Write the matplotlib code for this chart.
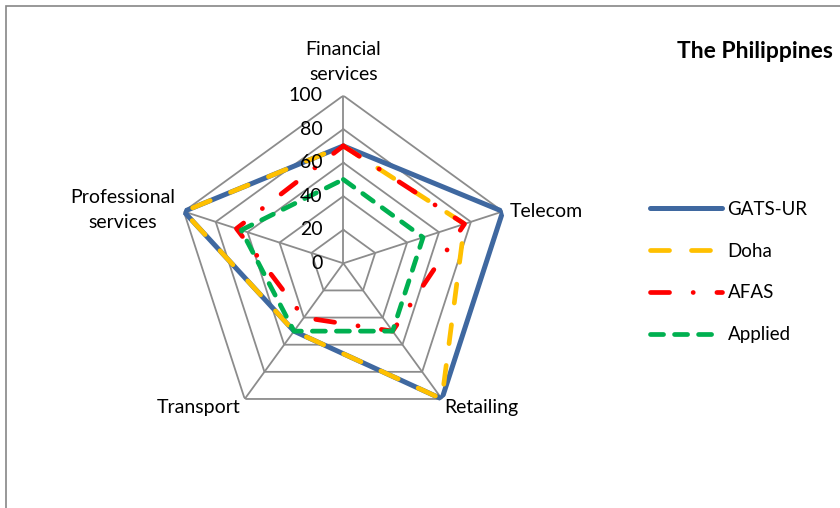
import numpy as np
import matplotlib
matplotlib.use("Agg")
import matplotlib.pyplot as plt
from matplotlib.patches import Rectangle

plt.rcParams['font.family'] = ['Lato', 'DejaVu Sans']
plt.rcParams['lines.scale_dashes'] = False

# Data
categories = ["Financial\nservices", "Telecom", "Retailing", "Transport", "Professional\nservices"]
gats_ur = [70, 100, 100, 50, 100]
doha = [70, 76, 100, 50, 100]
afas = [70, 76, 50, 40, 67]
applied = [50, 50, 50, 50, 64]
levels = [0, 20, 40, 60, 80, 100]

series = [
    ("GATS-UR", gats_ur, dict(color="#3F68A0", lw=3.6, ls="-", solid_capstyle="round")),
    ("Doha", doha, dict(color="#FFC000", lw=3.4, ls=(0, (13.7, 15.8)), dash_capstyle="round")),
    ("AFAS", afas, dict(color="#FF0000", lw=3.4, ls=(0, (13.7, 17, 0.1, 17)), dash_capstyle="round")),
    ("Applied", applied, dict(color="#00B050", lw=3.4, ls=(0, (9.4, 7.9)), dash_capstyle="round")),
]

W, H = 840, 508
fig = plt.figure(figsize=(W / 100, H / 100), dpi=100)

# outer chart frame (partly cut off in the reference)
fig.patches.append(Rectangle((6 / W, -0.1), 1.2, 1 - 6 / H + 0.1, transform=fig.transFigure,
                             fill=False, ec="#868686", lw=1.2))

cx, cy, rad = 343.3, 263.3, 167.7
ax = fig.add_axes([(cx - rad) / W, (H - cy - rad) / H, 2 * rad / W, 2 * rad / H], projection="polar")
ax.set_theta_zero_location("N")
ax.set_theta_direction(-1)
ax.grid(False)
ax.spines["polar"].set_visible(False)
ax.set_xticks([])
ax.set_yticks([])
ax.patch.set_alpha(0)

n = len(categories)
theta = np.arange(n) * 2 * np.pi / n
theta_closed = np.append(theta, theta[0])

# pentagon grid and spokes
for lv in levels[1:]:
    ax.plot(theta_closed, [lv] * (n + 1), color="#8C8C8C", lw=1.3, zorder=1)
for t in theta:
    ax.plot([t, t], [0, levels[-1]], color="#8C8C8C", lw=1.3, zorder=1)

for name, vals, st in series:
    ax.plot(theta_closed, list(vals) + [vals[0]], label=name, zorder=3, **st)

ax.set_ylim(0, 100)

# radial tick labels
for lv in levels:
    ax.annotate(str(lv), xy=(0, lv), xytext=(-15, 0), textcoords="offset points",
                ha="right", va="center", fontsize=14, zorder=4)

# category labels
offsets = [((0, 9), "center", "bottom"), ((5, 0), "left", "center"), ((2, -6), "left", "center"),
           ((-3, -6), "right", "center"), ((-6, 1), "right", "center")]
for t, lab, (off, ha, va) in zip(theta, categories, offsets):
    ax.annotate(lab, xy=(t, 100), xytext=off, textcoords="offset points", ha=ha, va=va,
                multialignment="center", fontsize=14, linespacing=1.6)

fig.text(755 / W, 1 - 52 / H, "The Philippines", ha="center", va="center", fontsize=16.5, fontweight="bold")

handles, labels = ax.get_legend_handles_labels()
fig.legend(handles, labels, loc="upper left", bbox_to_anchor=(650 / W, 1 - 201 / H), frameon=False,
           fontsize=13.5, handlelength=3.84, handletextpad=0.3, labelspacing=1.32,
           borderpad=0, borderaxespad=0)

fig.savefig("out.png", dpi=100)
